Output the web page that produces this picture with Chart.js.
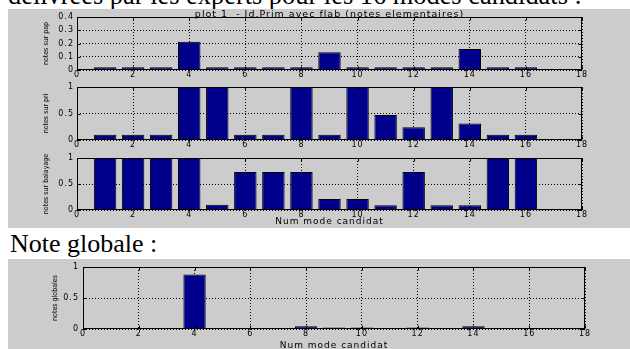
<!DOCTYPE html>
<html>
<head>
<meta charset="utf-8">
<script src="https://cdn.jsdelivr.net/npm/chart.js@4.4.0/dist/chart.umd.min.js"></script>
<style>
  html, body { margin: 0; padding: 0; background: #fff; }
  body { position: relative; width: 630px; height: 349px; overflow: hidden; font-family: "Liberation Serif", "Times New Roman", serif; }
  .txt { position: absolute; left: 8px; font-size: 26px; line-height: 26px; white-space: nowrap; color: #000; }
  .panel { position: absolute; left: 8px; width: 622px; background: #cccccc; }
  canvas { position: absolute; left: 8px; }
</style>
</head>
<body>
<div class="txt" style="top:-18px;font-size:26.4px">délivrées par les experts pour les 16 modes candidats :</div>
<div class="panel" style="top:9px;height:219px"></div>
<div class="txt" style="top:231px;left:10px">Note globale :</div>
<div class="panel" style="top:259px;height:90px"></div>
<canvas id="c1" width="622" height="71" style="top:9px"></canvas>
<canvas id="c2" width="622" height="70" style="top:80px"></canvas>
<canvas id="c3" width="622" height="78" style="top:150px"></canvas>
<canvas id="c4" width="622" height="90" style="top:259px"></canvas>
<script>
// modes candidats
const modes = [1, 2, 3, 4, 5, 6, 7, 8, 9, 10, 11, 12, 13, 14, 15, 16];
const xTicks = [0, 2, 4, 6, 8, 10, 12, 14, 16, 18];
const yTicksPap = [0, 0.1, 0.2, 0.3, 0.4];
const yTicksUnit = [0, 0.5, 1];

// notes elementaires
const notesPap = [0.02, 0.02, 0.02, 0.213, 0.02, 0.02, 0.02, 0.02, 0.134, 0.02, 0.02, 0.02, 0.02, 0.158, 0.02, 0.02];
const notesPri = [0.1, 0.1, 0.1, 1, 1, 0.1, 0.1, 1, 0.1, 1, 0.47, 0.24, 1, 0.31, 0.1, 0.1];
const notesBal = [1, 1, 1, 1, 0.1, 0.73, 0.73, 0.73, 0.21, 0.21, 0.09, 0.73, 0.09, 0.09, 1, 1];
// note globale
const notesGlob = [0, 0, 0, 0.88, 0, 0, 0, 0.045, 0.025, 0.025, 0, 0.025, 0, 0.045, 0, 0];

const titre1 = 'plot 1  - Id.Prim avec flab (notes elementaires)';
const xLabel = 'Num mode candidat';

const tickFont = { family: '"DejaVu Sans", sans-serif', size: 8, lineHeight: 1 };
const narrowFont = { family: '"Liberation Sans Narrow", "DejaVu Sans Condensed", "DejaVu Sans", sans-serif', size: 7, lineHeight: 1 };

// police matlab un peu "etiree" : espacement des lettres, sauf titre vertical
const spacingPlugin = {
    id: 'letterSpacing',
    beforeDraw(chart) {
        chart.ctx.letterSpacing = '1px';
        const y = chart.scales.y;
        if (!y._patched) {
            const orig = y.drawTitle;
            y.drawTitle = function () {
                this.ctx.letterSpacing = '0px';
                orig.call(this);
                this.ctx.letterSpacing = '1px';
            };
            y._patched = true;
        }
    }
};

// cadre + graduations vers l'interieur (style matlab)
const boxPlugin = {
    id: 'matlabBox',
    afterDatasetsDraw(chart) {
        const { ctx, chartArea: a, scales } = chart;
        const l = Math.round(a.left) + 0.5, r = Math.round(a.right) - 0.5;
        const t = Math.round(a.top) + 0.5, b = Math.round(a.bottom) - 0.5;
        ctx.save();
        ctx.strokeStyle = '#000';
        ctx.lineWidth = 1;
        ctx.strokeRect(l, t, r - l, b - t);
        ctx.beginPath();
        scales.x.ticks.forEach(tk => {
            const px = Math.round(scales.x.getPixelForValue(tk.value)) + 0.5;
            ctx.moveTo(px, b); ctx.lineTo(px, b - 3);
            ctx.moveTo(px, t); ctx.lineTo(px, t + 3);
        });
        scales.y.ticks.forEach(tk => {
            const py = Math.round(scales.y.getPixelForValue(tk.value)) + 0.5;
            ctx.moveTo(l, py); ctx.lineTo(l + 3, py);
            ctx.moveTo(r, py); ctx.lineTo(r - 3, py);
        });
        ctx.stroke();
        ctx.restore();
    }
};

function makeChart(id, values, yTicks, cfg) {
    const ctx = document.getElementById(id);
    return new Chart(ctx, {
        type: 'bar',
        data: {
            datasets: [{
                data: modes.map((m, i) => ({ x: m, y: values[i] })),
                backgroundColor: '#00008c',
                borderColor: '#000000',
                borderWidth: 1,
                categoryPercentage: 0.8,
                barPercentage: 1
            }]
        },
        options: {
            responsive: false,
            animation: false,
            events: [],
            layout: { padding: { top: cfg.padTop, right: cfg.padRight, left: 0, bottom: 0 } },
            plugins: {
                legend: { display: false },
                tooltip: { enabled: false },
                title: cfg.title ? {
                    display: true,
                    text: cfg.title,
                    fullSize: false,
                    color: '#000',
                    font: { family: '"DejaVu Sans", sans-serif', size: 9.5, weight: 'normal', lineHeight: 1 },
                    padding: { top: 1, bottom: -2.5 }
                } : { display: false }
            },
            scales: {
                x: {
                    type: 'linear',
                    min: 0,
                    max: 18,
                    offset: false,
                    afterBuildTicks: s => { s.ticks = xTicks.map(v => ({ value: v })); },
                    afterFit: s => { s.height = cfg.xHeight; },
                    grid: { offset: false, drawTicks: false, color: '#000', lineWidth: 1 },
                    border: { display: false, dash: [1, 2] },
                    ticks: { padding: 1, color: '#000', font: tickFont, maxRotation: 0, autoSkip: false, callback: v => String(v) },
                    title: cfg.xTitle ? {
                        display: true,
                        text: cfg.xTitle,
                        color: '#000',
                        font: { family: '"DejaVu Sans", sans-serif', size: 9, lineHeight: cfg.xTitleLH },
                        padding: { top: 0, bottom: cfg.xTitlePad }
                    } : { display: false }
                },
                y: {
                    min: 0,
                    max: yTicks[yTicks.length - 1],
                    afterBuildTicks: s => { s.ticks = yTicks.map(v => ({ value: v })); },
                    afterFit: s => { s.width = cfg.yWidth; },
                    grid: { drawTicks: false, color: '#000', lineWidth: 1 },
                    border: { display: false, dash: [1, 2] },
                    ticks: { padding: cfg.yPad, color: '#000', font: tickFont, callback: v => String(v) },
                    title: {
                        display: true,
                        text: cfg.yTitle,
                        color: '#000',
                        font: narrowFont,
                        padding: { top: cfg.yTitlePad, bottom: 0 }
                    }
                }
            }
        },
        plugins: [spacingPlugin, boxPlugin]
    });
}

makeChart('c1', notesPap, yTicksPap, {
    title: titre1, padTop: 0, padRight: 48, xHeight: 10, yWidth: 69, yPad: 3,
    yTitle: 'notes sur pap', yTitlePad: 34.5
});
makeChart('c2', notesPri, yTicksUnit, {
    padTop: 7, padRight: 48, xHeight: 10, yWidth: 69, yPad: 3,
    yTitle: 'notes sur pri', yTitlePad: 34.5
});
makeChart('c3', notesBal, yTicksUnit, {
    padTop: 8, padRight: 48, xHeight: 18, yWidth: 69, yPad: 3,
    yTitle: 'notes sur balayage', yTitlePad: 34.5,
    xTitle: xLabel, xTitleLH: 1, xTitlePad: 1.5
});
makeChart('c4', notesGlob, yTicksUnit, {
    padTop: 6, padRight: 45, xHeight: 20, yWidth: 75, yPad: 4,
    yTitle: 'notes globales', yTitlePad: 43.5,
    xTitle: xLabel, xTitleLH: 0.8, xTitlePad: 0
});
</script>
</body>
</html>
